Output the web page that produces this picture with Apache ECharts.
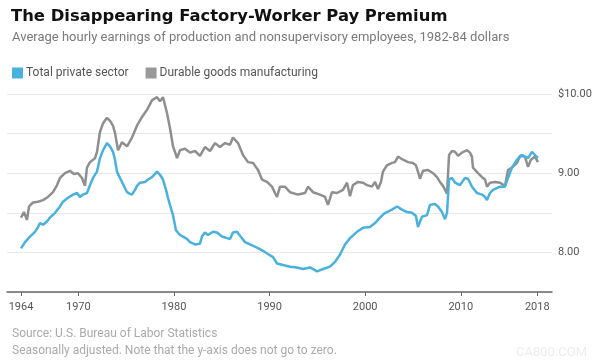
<!DOCTYPE html>
<html>
<head>
<meta charset="utf-8">
<script src="https://cdn.jsdelivr.net/npm/echarts@6/dist/echarts.min.js"></script>
<style>html,body{margin:0;padding:0;background:#fff;}#c{width:600px;height:363px;}</style>
</head>
<body>
<div id="c"></div>
<script>
// ---- Data ----
const seriesNames = ['Total private sector', 'Durable goods manufacturing'];
const xTickYears = [1964, 1970, 1980, 1990, 2000, 2010, 2018];
const yLabelValues = [8, 9, 10];

const privateYears = [1964.00,1964.42,1964.94,1965.46,1965.78,1965.99,1966.30,1966.72,1967.03,1967.56,1968.08,1968.39,1968.92,1969.44,1969.86,1970.17,1970.48,1970.90,1971.22,1971.53,1971.95,1972.26,1972.58,1972.99,1973.31,1973.62,1973.83,1974.04,1974.35,1974.56,1974.88,1975.09,1975.40,1975.61,1975.92,1976.13,1976.45,1976.97,1977.28,1977.70,1978.02,1978.22,1978.54,1978.85,1979.17,1979.37,1979.58,1979.90,1980.21,1980.63,1980.94,1981.36,1981.68,1982.20,1982.72,1982.93,1983.24,1983.56,1984.08,1984.50,1985.02,1985.55,1985.86,1986.17,1986.59,1986.91,1987.43,1987.95,1988.68,1989.31,1989.83,1990.36,1990.78,1991.40,1992.14,1992.87,1993.49,1994.23,1994.96,1995.59,1996.32,1996.84,1997.36,1997.89,1998.41,1999.14,1999.77,2000.50,2001.03,2001.55,2001.97,2002.28,2002.80,2003.33,2003.85,2004.37,2004.90,2005.31,2005.52,2005.94,2006.47,2006.78,2007.30,2007.62,2008.03,2008.35,2008.56,2008.77,2009.08,2009.39,2009.92,2010.44,2010.75,2011.17,2011.69,2012.22,2012.53,2012.74,2013.05,2013.37,2014.10,2014.62,2014.94,2015.35,2015.88,2016.40,2016.71,2017.03,2017.45,2017.76,2018.07];
const privateValues = [8.05,8.13,8.20,8.26,8.32,8.37,8.35,8.39,8.44,8.50,8.58,8.64,8.69,8.73,8.75,8.70,8.73,8.75,8.85,8.94,9.02,9.19,9.29,9.38,9.34,9.27,9.17,9.02,8.94,8.89,8.81,8.76,8.74,8.73,8.79,8.84,8.88,8.89,8.92,8.95,8.99,9.02,8.98,8.92,8.79,8.69,8.60,8.47,8.28,8.22,8.20,8.17,8.13,8.10,8.11,8.20,8.25,8.22,8.26,8.25,8.20,8.18,8.17,8.25,8.26,8.21,8.13,8.10,8.06,8.02,7.98,7.94,7.86,7.84,7.82,7.81,7.79,7.81,7.76,7.79,7.82,7.88,7.97,8.10,8.18,8.26,8.31,8.32,8.37,8.44,8.49,8.51,8.54,8.58,8.54,8.51,8.50,8.46,8.32,8.45,8.47,8.60,8.61,8.58,8.51,8.42,8.50,8.92,8.94,8.88,8.85,8.94,8.93,8.83,8.75,8.73,8.70,8.66,8.75,8.79,8.83,8.83,8.94,9.07,9.17,9.23,9.21,9.19,9.27,9.23,9.19];

const durableYears = [1964.00,1964.31,1964.63,1964.84,1965.26,1965.78,1966.30,1966.82,1967.35,1967.77,1968.08,1968.60,1969.12,1969.54,1969.96,1970.38,1970.69,1970.90,1971.22,1971.74,1971.95,1972.26,1972.58,1972.99,1973.31,1973.62,1973.83,1974.15,1974.56,1975.09,1975.61,1976.13,1976.66,1977.18,1977.70,1978.22,1978.54,1978.85,1979.27,1979.58,1979.90,1980.32,1980.63,1981.15,1981.68,1982.20,1982.72,1983.24,1983.77,1984.29,1984.81,1985.34,1985.86,1986.17,1986.70,1987.22,1987.74,1988.27,1988.79,1989.21,1989.73,1990.25,1990.57,1990.78,1991.09,1991.61,1992.14,1992.97,1993.71,1994.02,1994.54,1995.27,1995.80,1996.11,1996.53,1997.05,1997.68,1998.10,1998.41,1998.72,1999.25,1999.77,2000.19,2000.71,2001.03,2001.34,2001.65,2001.86,2002.28,2002.80,2003.12,2003.43,2003.95,2004.48,2005.00,2005.31,2005.52,2005.73,2006.05,2006.57,2007.10,2007.51,2007.82,2008.14,2008.56,2008.77,2009.08,2009.39,2009.71,2010.12,2010.65,2010.96,2011.17,2011.27,2011.80,2012.22,2012.53,2012.74,2013.05,2013.58,2014.10,2014.62,2014.94,2015.35,2015.88,2016.19,2016.71,2017.03,2017.34,2017.76,2018.07];
const durableValues = [8.44,8.51,8.41,8.58,8.63,8.64,8.66,8.70,8.76,8.85,8.94,9.00,9.03,8.99,9.00,8.94,8.84,9.07,9.14,9.19,9.27,9.52,9.63,9.70,9.66,9.60,9.51,9.29,9.39,9.34,9.45,9.60,9.71,9.80,9.92,9.96,9.91,9.96,9.76,9.57,9.34,9.19,9.29,9.31,9.26,9.28,9.22,9.33,9.28,9.38,9.33,9.38,9.36,9.45,9.38,9.23,9.14,9.13,9.04,8.92,8.89,8.83,8.75,8.70,8.83,8.83,8.76,8.73,8.75,8.83,8.76,8.73,8.70,8.60,8.76,8.75,8.79,8.88,8.71,8.85,8.89,8.88,8.85,8.83,8.89,8.80,8.89,9.02,9.10,9.13,9.14,9.21,9.17,9.14,9.13,9.10,9.02,8.93,9.03,9.04,9.00,8.95,8.89,8.84,8.74,9.23,9.28,9.27,9.22,9.26,9.29,9.26,9.21,9.07,9.00,8.95,8.92,8.83,8.88,8.89,8.88,8.84,9.04,9.07,9.13,9.22,9.21,9.08,9.17,9.21,9.14];

const titleText = 'The Disappearing Factory-Worker Pay Premium';
const subtitleText = 'Average hourly earnings of production and nonsupervisory employees, 1982-84 dollars';
const sourceText = 'Source: U.S. Bureau of Labor Statistics';
const noteText = 'Seasonally adjusted. Note that the y-axis does not go to zero.';

const zip = (xs, ys) => xs.map((x, i) => [x, ys[i]]);

const chart = echarts.init(document.getElementById('c'), null, {renderer: 'canvas'});
const FONT = 'Roboto, "Liberation Sans", sans-serif';
chart.setOption({
  animation: false,
  backgroundColor: '#ffffff',
  title: [
    {text: titleText, left: 6, top: 4,
     textStyle: {fontFamily: '"DejaVu Sans", sans-serif', fontWeight: 'bold', fontSize: 16.4, color: '#111'}},
    {text: subtitleText, left: 7, top: 26,
     textStyle: {fontFamily: FONT, fontWeight: 'normal', fontSize: 13, color: '#7a7a7a'}},
    {text: sourceText, left: 7, top: 323,
     textStyle: {fontFamily: FONT, fontWeight: 'normal', fontSize: 12, color: '#aaaaaa'}},
    {text: noteText, left: 7, top: 340,
     textStyle: {fontFamily: FONT, fontWeight: 'normal', fontSize: 12, color: '#aaaaaa'}},
    {text: 'CA800.COM', right: 8, top: 341,
     textStyle: {fontFamily: FONT, fontWeight: 'normal', fontSize: 13, color: '#ececec'}}
  ],
  legend: {
    data: seriesNames,
    left: 7, top: 62,
    icon: 'rect', itemWidth: 11, itemHeight: 11, itemGap: 17,
    textStyle: {fontFamily: FONT, fontSize: 12, color: '#555', padding: [0,0,0,-2]}
  },
  grid: {left: 7, width: 545, top: 94, height: 198, containLabel: false},
  xAxis: {
    type: 'value', min: 1962.536, max: 2019.54,
    axisLine: {show: true, lineStyle: {color: '#666', width: 1.5}},
    axisTick: {show: true, length: 4, customValues: xTickYears, lineStyle: {color: '#666', width: 1}},
    axisLabel: {show: true, customValues: xTickYears, margin: 10, fontFamily: FONT, fontSize: 11, color: '#555', formatter: v => String(v)},
    splitLine: {show: false}
  },
  yAxis: {
    type: 'value', min: 7.5, max: 10, interval: 0.5, position: 'right',
    axisLine: {show: false}, axisTick: {show: false},
    axisLabel: {margin: 6, fontFamily: FONT, fontSize: 11, color: '#555',
      formatter: v => (yLabelValues.indexOf(v) >= 0 ? (v === 10 ? '$10.00' : v.toFixed(2)) : '')},
    splitLine: {show: true, lineStyle: {color: '#e8e8e8', width: 1}}
  },
  series: [
    {name: seriesNames[1], type: 'line', data: zip(durableYears, durableValues), showSymbol: false,
     lineStyle: {color: '#8f8f8f', width: 2.5}, itemStyle: {color: '#999999'}, z: 2},
    {name: seriesNames[0], type: 'line', data: zip(privateYears, privateValues), showSymbol: false,
     lineStyle: {color: '#4ab0dc', width: 2.5}, itemStyle: {color: '#4ab0dc'}, z: 3}
  ]
});
</script>
</body>
</html>
